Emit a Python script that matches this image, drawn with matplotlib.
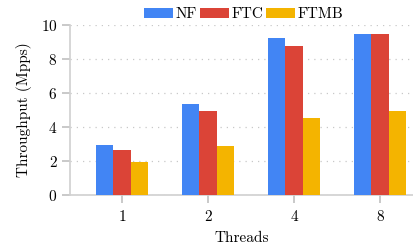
import numpy as np
import matplotlib.pyplot as plt

threads = ["1", "2", "4", "8"]
nf = [2.94, 5.35, 9.25, 9.47]
ftc = [2.65, 4.94, 8.78, 9.47]
ftmb = [1.94, 2.88, 4.53, 4.96]

plt.rcParams["font.family"] = "cmr10"
plt.rcParams["axes.formatter.use_mathtext"] = True

fig = plt.figure(figsize=(4.14, 2.52), dpi=100)
ax = fig.add_axes([70 / 414, 57 / 252, 344 / 414, 170 / 252])

x = np.arange(len(threads))
w = 0.205
colors = ["#4285f4", "#db4437", "#f4b400"]
ax.bar(x - w, nf, w, color=colors[0], label="NF", zorder=3)
ax.bar(x, ftc, w, color=colors[1], label="FTC", zorder=3)
ax.bar(x + w, ftmb, w, color=colors[2], label="FTMB", zorder=3)

ax.set_xlim(-0.605, 3.395)
ax.set_ylim(0, 10)
ax.set_yticks([0, 2, 4, 6, 8, 10])
ax.set_xticks(x)
ax.set_xticklabels(threads)
ax.grid(axis="y", linestyle=(0, (1, 4)), color="#c8c8c8", linewidth=0.9, zorder=0)

for s in ["top", "right"]:
    ax.spines[s].set_visible(False)
for s in ["left", "bottom"]:
    ax.spines[s].set_color("#d0d0d0")
    ax.spines[s].set_linewidth(1.2)
ax.tick_params(axis="both", colors="#c0c0c0", labelcolor="black", labelsize=11, length=6, width=1.2)
ax.tick_params(axis="y", pad=3)
ax.tick_params(axis="x", pad=5)

ax.set_ylabel("Throughput (Mpps)", fontsize=11, labelpad=6)
ax.set_xlabel("Threads", fontsize=11, labelpad=5)

ax.legend(loc="lower center", bbox_to_anchor=(0.505, 0.985), ncol=3, frameon=False,
          fontsize=11, handlelength=1.9, handleheight=0.65, handletextpad=0.15,
          columnspacing=0.2, borderaxespad=0)

fig.savefig("out.png", dpi=100)
